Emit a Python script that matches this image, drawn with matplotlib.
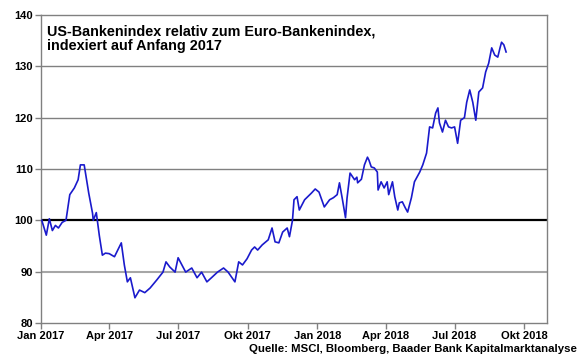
import matplotlib
matplotlib.use('Agg')
import matplotlib.pyplot as plt
import pandas as pd

plt.rcParams['font.family'] = ['Liberation Sans', 'DejaVu Sans']

# US bank index relative to euro bank index (start 2017 = 100)
dates = [
    '2017-01-02', '2017-01-08', '2017-01-12', '2017-01-16', '2017-01-20', '2017-01-24',
    '2017-01-29', '2017-02-03', '2017-02-08', '2017-02-14', '2017-02-19', '2017-02-22',
    '2017-02-27', '2017-03-05', '2017-03-10', '2017-03-11', '2017-03-15', '2017-03-19',
    '2017-03-23', '2017-03-27', '2017-04-01', '2017-04-08', '2017-04-17', '2017-04-21',
    '2017-04-25', '2017-04-29', '2017-05-05', '2017-05-11', '2017-05-18', '2017-05-25',
    '2017-06-03', '2017-06-11', '2017-06-15', '2017-06-20', '2017-06-27', '2017-07-01',
    '2017-07-06', '2017-07-11', '2017-07-19', '2017-07-26', '2017-08-01', '2017-08-08',
    '2017-08-14', '2017-08-22', '2017-08-30', '2017-09-05', '2017-09-14', '2017-09-19',
    '2017-09-24', '2017-09-30', '2017-10-06', '2017-10-10', '2017-10-14', '2017-10-20',
    '2017-10-28', '2017-11-02', '2017-11-06', '2017-11-11', '2017-11-16', '2017-11-22',
    '2017-11-25', '2017-11-29', '2017-12-01', '2017-12-05', '2017-12-08', '2017-12-15',
    '2017-12-24', '2017-12-29', '2018-01-03', '2018-01-10', '2018-01-17', '2018-01-22',
    '2018-01-27', '2018-01-30', '2018-02-03', '2018-02-07', '2018-02-09', '2018-02-13',
    '2018-02-19', '2018-02-22', '2018-02-23', '2018-02-28', '2018-03-04', '2018-03-08',
    '2018-03-10', '2018-03-13', '2018-03-17', '2018-03-21', '2018-03-22', '2018-03-26',
    '2018-03-30', '2018-04-03', '2018-04-05', '2018-04-10', '2018-04-13', '2018-04-17',
    '2018-04-19', '2018-04-23', '2018-04-27', '2018-04-30', '2018-05-05', '2018-05-09',
    '2018-05-16', '2018-05-20', '2018-05-25', '2018-05-29', '2018-06-02', '2018-06-06',
    '2018-06-09', '2018-06-11', '2018-06-15', '2018-06-19', '2018-06-23', '2018-06-27',
    '2018-07-01', '2018-07-05', '2018-07-09', '2018-07-14', '2018-07-17', '2018-07-21',
    '2018-07-25', '2018-07-29', '2018-08-02', '2018-08-07', '2018-08-11', '2018-08-15',
    '2018-08-19', '2018-08-23', '2018-08-27', '2018-08-30', '2018-09-01', '2018-09-04',
    '2018-09-07',
]
values = [
    100.0, 97.1, 100.3, 98.0, 99.0, 98.5,
    99.6, 100.0, 105.0, 106.3, 107.9, 110.8,
    110.8, 105.3, 101.4, 100.0, 101.5, 97.0,
    93.2, 93.6, 93.5, 92.9, 95.6, 91.3,
    88.0, 88.8, 84.9, 86.4, 85.9, 86.8,
    88.4, 89.9, 91.9, 90.9, 89.9, 92.7,
    91.3, 89.9, 90.7, 88.8, 89.9, 88.0,
    88.8, 89.9, 90.7, 89.9, 88.0, 91.9,
    91.3, 92.5, 94.2, 94.8, 94.2, 95.2,
    96.2, 98.5, 95.8, 95.6, 97.7, 98.5,
    96.8, 100.0, 104.0, 104.6, 102.0, 104.0,
    105.3, 106.1, 105.5, 102.6, 104.0, 104.4,
    105.0, 107.3, 104.0, 100.5, 104.3, 109.2,
    107.9, 108.4, 107.3, 108.0, 110.8, 112.3,
    111.7, 110.4, 110.2, 109.4, 105.9, 107.5,
    106.3, 107.5, 105.0, 107.5, 104.6, 102.0,
    103.4, 103.6, 102.4, 101.6, 104.4, 107.5,
    109.4, 110.8, 113.1, 118.2, 118.0, 120.9,
    121.9, 119.0, 117.2, 119.5, 118.2, 118.0,
    118.2, 115.0, 119.5, 120.0, 123.0, 125.4,
    123.0, 119.5, 125.0, 125.8, 128.9, 130.6,
    133.6, 132.2, 131.8, 133.6, 134.7, 134.2,
    132.8,
]

x_ticks = ['2017-01-01', '2017-04-01', '2017-07-01', '2017-10-01',
           '2018-01-01', '2018-04-01', '2018-07-01', '2018-10-01']
x_labels = ['Jan 2017', 'Apr 2017', 'Jul 2017', 'Okt 2017',
            'Jan 2018', 'Apr 2018', 'Jul 2018', 'Okt 2018']
y_ticks = [80, 90, 100, 110, 120, 130, 140]

dates = pd.to_datetime(dates)

fig = plt.figure(figsize=(5.8, 3.58), dpi=100)
ax = fig.add_axes([0.0707, 0.098, 0.8724, 0.860])

for y in [110, 120, 130]:
    ax.axhline(y, color='#808080', lw=1.0, zorder=1)
ax.axhline(90, color='#a6a6a6', lw=1.5, zorder=1)
ax.axhline(100, color='black', lw=1.6, zorder=2)

ax.plot(dates, values, color='#1a1acc', lw=1.2, zorder=3)

ax.set_xlim(pd.Timestamp('2017-01-01'), pd.Timestamp('2018-10-31'))
ax.set_ylim(80, 140)
ax.set_yticks(y_ticks)
ax.set_yticklabels([str(v) for v in y_ticks], fontsize=8, fontweight='bold')
ax.set_xticks(pd.to_datetime(x_ticks))
ax.set_xticklabels(x_labels, fontsize=8, fontweight='bold')
ax.tick_params(axis='both', color='#808080', length=4, width=1, pad=2)

for s in ax.spines.values():
    s.set_color('#808080')
    s.set_linewidth(1.0)

ax.text(0.012, 0.97, 'US-Bankenindex relativ zum Euro-Bankenindex,\nindexiert auf Anfang 2017',
        transform=ax.transAxes, ha='left', va='top', fontsize=10.4,
        fontweight='bold', linespacing=1.1)

fig.text(0.995, 0.01, 'Quelle: MSCI, Bloomberg, Baader Bank Kapitalmarktanalyse',
         ha='right', va='bottom', fontsize=8.2, fontweight='bold')

fig.savefig('out.png', dpi=100)
